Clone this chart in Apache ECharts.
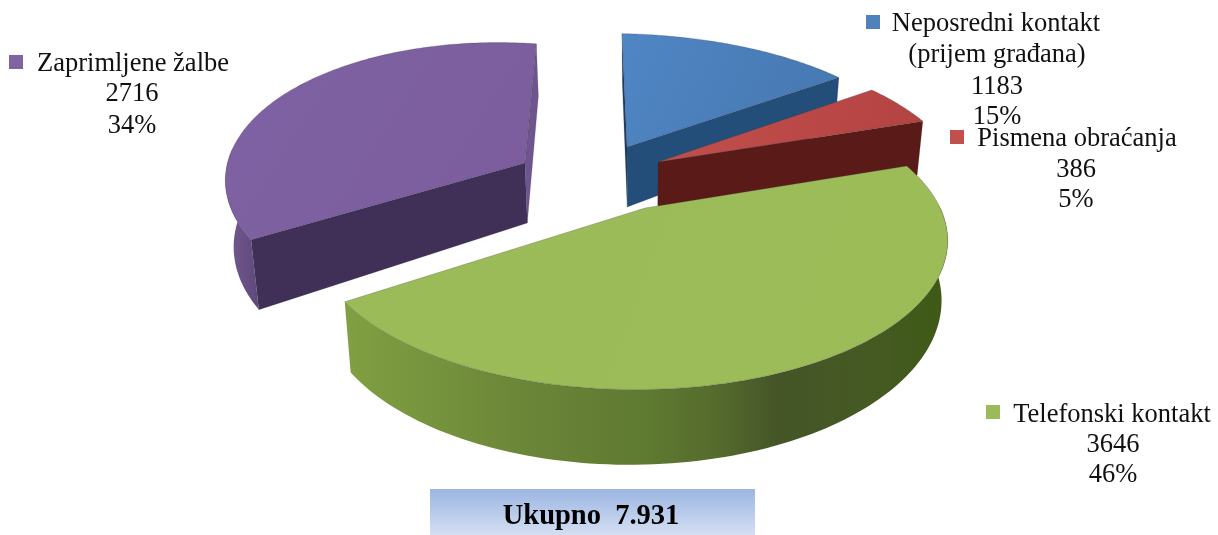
<!DOCTYPE html>
<html>
<head>
<meta charset="utf-8">
<style>
  html, body { margin: 0; padding: 0; background: #fff; }
  #chart { width: 1218px; height: 535px; }
</style>
<script src="https://cdn.jsdelivr.net/npm/echarts@6/dist/echarts.min.js"></script>
</head>
<body>
<div id="chart"></div>
<script>
// podaci
const categories = ['Neposredni kontakt (prijem građana)', 'Pismena obraćanja', 'Telefonski kontakt', 'Zaprimljene žalbe']
const values = [1183, 386, 3646, 2716]
const percents = ['15%', '5%', '46%', '34%']
const totalLabel = 'Ukupno  7.931'

// kolacic u perspektivi: ox,oy = vrh isjecka, a,b,c,d,k,m = preslikavanje ravni na ekran
const frames = [
  { ox: 627, oy: 147, a: 309, b: 136, c: 6, d: 0, k: 0.2, m: -0.05 },
  { ox: 658, oy: 162, a: 314, b: 141, c: 9, d: 0, k: 0.2, m: -0.05 },
  { ox: 645, oy: 208, a: 310, b: 145, c: 8, d: 0, k: 0.2, m: -0.05 },
  { ox: 525, oy: 163, a: 273, b: 137, c: -13, d: 11, k: 0.15, m: -0.07 }
]
const depth = 60
const vanishX = 640

const colors = [
  { top: ['#4f86c4', '#4677b0'], cut0: '#1e3c5e', cut1: '#234e79', swatch: '#4f81bd' },
  { top: ['#c24f4c', '#b34341'], cut0: '#5a1b18', cut1: '#5a1b18', swatch: '#c0504d' },
  { top: ['#9bbb59', '#9cbc58'], cut0: '#6a853a', cut1: '#6a853a', swatch: '#9bbb59' },
  { top: ['#7f62a3', '#7b5d9d'], cut0: '#403058', cut1: '#6f5590', swatch: '#8064a2' }
]
const outerStops = {
  2: [[0, '#80a042'], [0.3, '#6b8638'], [0.5, '#5f7a31'], [0.62, '#556b2d'], [0.72, '#455527'], [0.88, '#455a23'], [1, '#3e5a15']],
  3: [[0, '#73598f'], [1, '#5c4678']]
}

const total = values.reduce((s, v) => s + v, 0)

function project(f, theta, r) {
  const u = r * Math.sin(theta)
  const v = -r * Math.cos(theta)
  const w = 1 - f.k * v - f.m * u
  return { x: f.ox + (f.a * u + f.c * v) / w, y: f.oy + (f.d * u + f.b * v) / w, w: w }
}
function drop(p) {
  return [p.x - (p.x - vanishX) * 0.02, p.y + depth / p.w]
}
function cross(a, b) {
  return a[0] * b[1] - a[1] * b[0]
}

function renderSlice(params, api) {
  const i = params.dataIndex
  const val = api.value(0)
  let before = 0
  for (let k = 0; k < i; k++) before += values[k]
  const t0 = before / total * Math.PI * 2
  const t1 = (before + val) / total * Math.PI * 2
  const f = frames[i]
  const col = colors[i]
  const apex = project(f, 0, 0)
  const mid = project(f, (t0 + t1) / 2, 0.5)
  const inner = [mid.x - apex.x, mid.y - apex.y]
  const children = []

  // rezne strane
  ;[t0, t1].forEach((t, n) => {
    const p = project(f, t, 1)
    const edge = [p.x - apex.x, p.y - apex.y]
    const dr = drop(apex)
    const down = [dr[0] - apex.x, dr[1] - apex.y]
    if (cross(edge, down) * cross(edge, inner) < 0) {
      children.push({
        type: 'polygon',
        shape: { points: [[apex.x, apex.y], [p.x, p.y], drop(p), dr] },
        style: { fill: n === 1 ? col.cut1 : col.cut0, stroke: 'rgba(50,50,60,0.35)', lineWidth: 0.5 },
        silent: true
      })
    }
  })

  // vanjski rub, samo prednji dio
  const arcTop = []
  const arcBottom = []
  const steps = 120
  for (let s = 0; s <= steps; s++) {
    const t = t0 + (t1 - t0) * s / steps
    const p = project(f, t, 1)
    if (-Math.cos(t) > -0.02) {
      arcTop.push([p.x, p.y])
      arcBottom.unshift(drop(p))
    }
  }
  if (arcTop.length > 1 && outerStops[i]) {
    children.push({
      type: 'polygon',
      shape: { points: arcTop.concat(arcBottom) },
      style: {
        fill: new echarts.graphic.LinearGradient(i === 2 ? 345 : 228, 0, i === 2 ? 945 : 262, 0, outerStops[i].map(s => ({ offset: s[0], color: s[1] })), true),
        stroke: 'none'
      },
      silent: true
    })
  }

  // gornja ploha
  const pts = [[apex.x, apex.y]]
  for (let s = 0; s <= steps; s++) {
    const p = project(f, t0 + (t1 - t0) * s / steps, 1)
    pts.push([p.x, p.y])
  }
  children.push({
    type: 'polygon',
    shape: { points: pts },
    style: {
      fill: new echarts.graphic.LinearGradient(0, 0, 1, 1, [{ offset: 0, color: col.top[0] }, { offset: 1, color: col.top[1] }]),
      stroke: 'rgba(50,50,60,0.4)',
      lineWidth: 0.6
    },
    silent: true
  })
  return { type: 'group', children: children }
}

// tekstovi oko kolacica
const labelLayout = [
  { swatch: [866, 15], lines: [['Neposredni kontakt', 996, 24], ['(prijem građana)', 997, 55], [values[0], 997, 87], [percents[0], 997, 117]] },
  { swatch: [950, 130], lines: [['Pismena obraćanja', 1077, 139], [values[1], 1076, 170], [percents[1], 1076, 200]] },
  { swatch: [986, 405], lines: [['Telefonski kontakt', 1112, 415], [values[2], 1113, 445], [percents[2], 1113, 475]] },
  { swatch: [9, 55], lines: [['Zaprimljene žalbe', 133, 64], [values[3], 132, 94], [percents[3], 132, 126]] }
]
const graphics = []
labelLayout.forEach((l, i) => {
  graphics.push({
    type: 'rect',
    shape: { x: l.swatch[0], y: l.swatch[1], width: 14, height: 14 },
    style: { fill: colors[i].swatch }
  })
  l.lines.forEach(t => {
    graphics.push({
      type: 'text',
      x: t[1], y: t[2],
      style: {
        text: String(t[0]), fill: '#111', font: '26.5px "Liberation Serif"',
        textAlign: 'center', textVerticalAlign: 'middle'
      }
    })
  })
})
graphics.push({
  type: 'rect',
  shape: { x: 430, y: 489, width: 325, height: 46 },
  style: {
    fill: new echarts.graphic.LinearGradient(0, 0, 0, 1, [{ offset: 0, color: '#9bb5e1' }, { offset: 1, color: '#d4dff3' }])
  }
})
graphics.push({
  type: 'text',
  x: 591, y: 517,
  style: {
    text: totalLabel, fill: '#000', font: 'bold 28.5px "Liberation Serif"',
    textAlign: 'center', textVerticalAlign: 'middle'
  }
})

const chart = echarts.init(document.getElementById('chart'), null, { renderer: 'canvas' })
chart.setOption({
  animation: false,
  backgroundColor: '#fff',
  graphic: graphics,
  series: [{
    type: 'custom',
    coordinateSystem: 'none',
    name: 'Ukupno',
    data: values.map((v, i) => ({ name: categories[i], value: [v] })),
    renderItem: renderSlice,
    silent: true
  }]
})
</script>
</body>
</html>
